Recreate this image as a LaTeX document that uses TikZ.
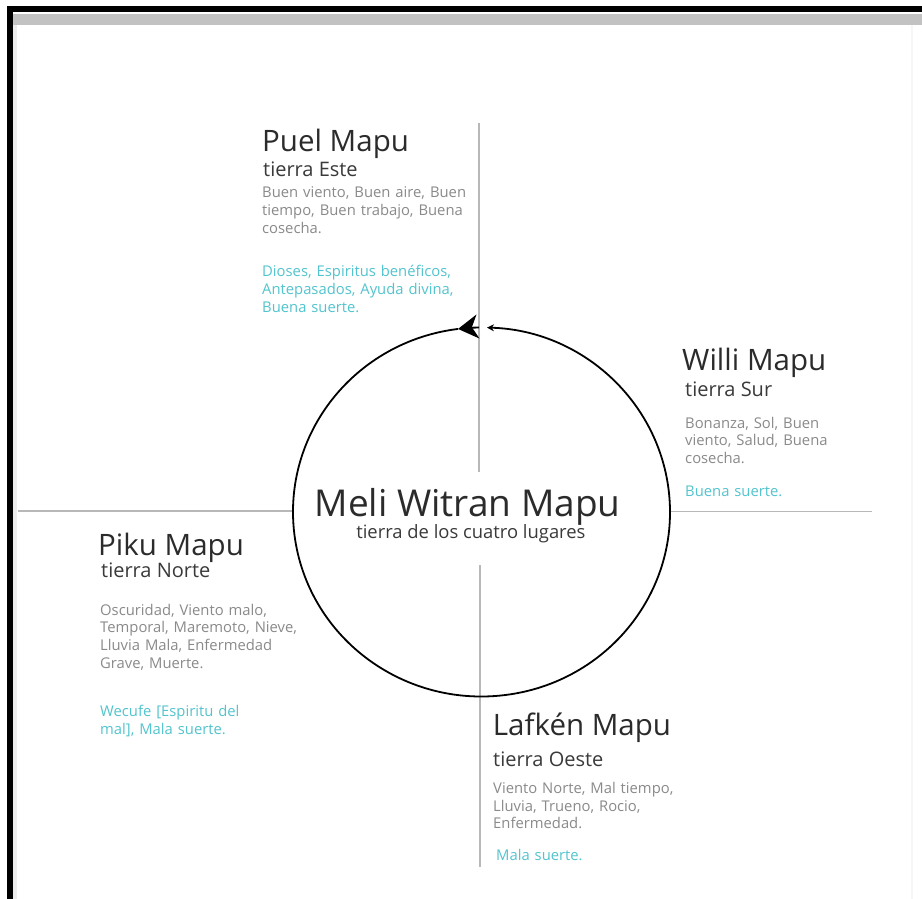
\documentclass[tikz,border=0pt]{standalone}
\usepackage{fontspec}
\setmainfont{Open Sans}
\usetikzlibrary{arrows.meta}
\definecolor{tdark}{HTML}{2B2B2B}
\definecolor{tsub}{HTML}{3A3A3A}
\definecolor{tbody}{HTML}{8A8A8A}
\definecolor{tcyan}{HTML}{52C4CE}
\definecolor{axisgray}{HTML}{B8B8B8}
\definecolor{bandgray}{HTML}{C2C2C2}
\definecolor{faintgray}{HTML}{ECECEC}
\definecolor{veryfaint}{HTML}{F6F6F6}
\begin{document}
\begin{tikzpicture}[x=1pt,y=-1pt,
  titletext/.style={font=\fontsize{29.5}{32}\selectfont, text=tdark, anchor=base west, inner sep=0pt},
  subtext/.style={font=\fontsize{20}{22}\selectfont, text=tsub, anchor=base west, inner sep=0pt},
  bodytext/.style={font=\fontsize{14.8}{17.8}\selectfont, text=tbody, anchor=base west, inner sep=0pt, text width=240pt, align=left},
  cyantext/.style={bodytext, text=tcyan},
  axisline/.style={draw=axisgray, line width=1.6pt},
  ring/.style={draw=black, line width=1.8pt}
]
\useasboundingbox (0,0) rectangle (922,899);
\fill[white] (0,0) rectangle (922,899);
% frame
\fill[black] (7,6.5) rectangle (922,12.5);
\fill[black] (7,6.5) rectangle (13,899);
\fill[bandgray] (13,14) rectangle (922,25);
\fill[faintgray] (13,25) rectangle (17,899);
\fill[veryfaint] (911,25) rectangle (913,899);

% axes
\coordinate (vtop) at (479,123);
\coordinate (vmid1) at (479,472);
\coordinate (vmid2) at (480,565);
\coordinate (vbot) at (480,867);
\coordinate (hleft) at (18,511);
\coordinate (hcl) at (293,511);
\coordinate (hcr) at (670,511.5);
\coordinate (hright) at (872,511.5);
\draw[axisline] (vtop) -- (vmid1);
\draw[axisline] (vmid2) -- (vbot);
\draw[axisline] (hleft) -- (hcl);
\draw[axisline] (hcr) -- (hright);

% circle with arrows
\coordinate (C) at (481.5,512);
\draw[ring, -{Stealth[length=7pt,width=7pt]}]
  ([shift={(262.84:188.5 and 184.5)}]C) arc[start angle=262.84, end angle=-88.33, x radius=188.5, y radius=184.5];
\draw[ring, -{Stealth[length=20pt,width=24pt,inset=6pt]}]
  ([shift={(269.3:188.5 and 184.5)}]C) arc[start angle=269.3, end angle=262.84, x radius=188.5, y radius=184.5];

% centre
\node[font=\fontsize{37}{40}\selectfont, text=tdark, anchor=base, inner sep=0pt] (meli) at (467.5,516.7) {Meli Witran Mapu};
\node[font=\fontsize{18.4}{20}\selectfont, text=tsub, anchor=base, inner sep=0pt] (melisub) at (470.9,538.3) {tierra de los cuatro lugares};

% Puel Mapu
\node[titletext] (puel) at (262,151) {Puel Mapu};
\node[subtext] (puelsub) at (263,176.5) {tierra Este};
\node[bodytext] (puelbody) at (262,197.5) {Buen viento, Buen aire, Buen\\tiempo, Buen trabajo, Buena\\cosecha.};
\node[cyantext] (puelcyan) at (262,276.7) {Dioses, Espiritus benéficos,\\Antepasados, Ayuda divina,\\Buena suerte.};

% Willi Mapu
\node[titletext] (willi) at (682,370) {Willi Mapu};
\node[subtext] (willisub) at (685,396.7) {tierra Sur};
\node[bodytext] (willibody) at (685,428) {Bonanza, Sol, Buen\\viento, Salud, Buena\\cosecha.};
\node[cyantext] (willicyan) at (685,496.7) {Buena suerte.};

% Piku Mapu
\node[titletext] (piku) at (98,555) {Piku Mapu};
\node[subtext] (pikusub) at (101,577.3) {tierra Norte};
\node[bodytext] (pikubody) at (100,615) {Oscuridad, Viento malo,\\Temporal, Maremoto, Nieve,\\Lluvia Mala, Enfermedad\\Grave, Muerte.};
\node[cyantext] (pikucyan) at (100,716.7) {Wecufe [Espiritu del\\mal], Mala suerte.};

% Lafken Mapu
\node[titletext] (lafken) at (492.7,735) {Lafkén Mapu};
\node[subtext] (lafkensub) at (493,766) {tierra Oeste};
\node[bodytext] (lafkenbody) at (493,793.3) {Viento Norte, Mal tiempo,\\Lluvia, Trueno, Rocio,\\Enfermedad.};
\node[cyantext] (lafkencyan) at (496,860) {Mala suerte.};
\end{tikzpicture}
\end{document}
